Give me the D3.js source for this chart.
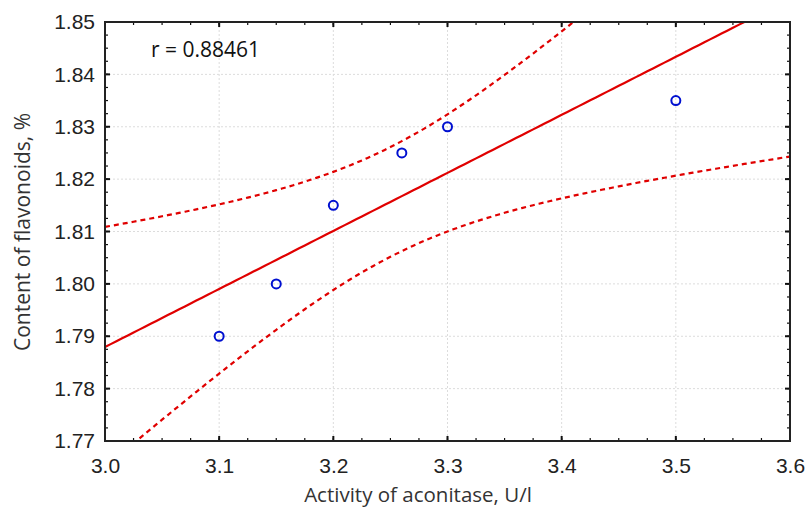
<!DOCTYPE html>
<html>
<head>
<meta charset="utf-8">
<script src="https://cdn.jsdelivr.net/npm/d3@7"></script>
<style>
  body { margin: 0; background: #fff; }
  svg { display: block; font-family: "Open Sans", sans-serif; }
  .grid line { stroke: #dcdcdc; stroke-dasharray: 2 2; }
  .tick text { fill: #222; }
</style>
</head>
<body>
<svg id="chart" width="806" height="509"></svg>
<script>
// data
const activity   = [3.10, 3.15, 3.20, 3.26, 3.30, 3.50];   // U/l
const flavonoids = [1.790, 1.800, 1.815, 1.825, 1.830, 1.835]; // %
const xTicks = [3.0, 3.1, 3.2, 3.3, 3.4, 3.5, 3.6];
const yTicks = [1.77, 1.78, 1.79, 1.80, 1.81, 1.82, 1.83, 1.84, 1.85];

const svg = d3.select('#chart');
const m = { left: 105, right: 16, top: 22, bottom: 68 };
const W = 806, H = 509;

const x = d3.scaleLinear().domain([3.0, 3.6]).range([m.left, W - m.right]);
const y = d3.scaleLinear().domain([1.77, 1.85]).range([H - m.bottom, m.top]);

// regression + 95% confidence band
const n = activity.length;
const mx = d3.mean(activity), my = d3.mean(flavonoids);
let sxx = 0, sxy = 0, syy = 0;
activity.forEach((v, i) => {
  sxx += (v - mx) ** 2;
  sxy += (v - mx) * (flavonoids[i] - my);
  syy += (flavonoids[i] - my) ** 2;
});
const b = sxy / sxx, a = my - b * mx;
const s = Math.sqrt((syy - sxy * sxy / sxx) / (n - 2));
const t = 2.776; // t(0.975, 4)
const xs = d3.range(3.0, 3.6001, 0.005);
const band = k => xs.map(v => [v, a + b * v + k * t * s * Math.sqrt(1 / n + (v - mx) ** 2 / sxx)]);

svg.append('defs').append('clipPath').attr('id', 'clip')
  .append('rect')
  .attr('x', m.left).attr('y', m.top)
  .attr('width', W - m.left - m.right).attr('height', H - m.top - m.bottom);

// grid
const grid = svg.append('g').attr('class', 'grid');
grid.selectAll('.vx').data(xTicks.slice(1, -1)).enter().append('line')
  .attr('x1', d => x(d)).attr('x2', d => x(d))
  .attr('y1', m.top).attr('y2', H - m.bottom);
grid.selectAll('.hy').data(yTicks.slice(1, -1)).enter().append('line')
  .attr('y1', d => y(d)).attr('y2', d => y(d))
  .attr('x1', m.left).attr('x2', W - m.right);

// lines
const line = d3.line().x(d => x(d[0])).y(d => y(d[1]));
const plot = svg.append('g').attr('clip-path', 'url(#clip)');
plot.append('path').datum(band(0))
  .attr('d', line).attr('fill', 'none').attr('stroke', '#e00000').attr('stroke-width', 2.2);
[-1, 1].forEach(k => {
  plot.append('path').datum(band(k))
    .attr('d', line).attr('fill', 'none').attr('stroke', '#e00000')
    .attr('stroke-width', 2.2).attr('stroke-dasharray', '5 4');
});

// points
svg.append('g').selectAll('circle').data(activity).enter().append('circle')
  .attr('cx', d => x(d)).attr('cy', (d, i) => y(flavonoids[i]))
  .attr('r', 4.5).attr('fill', 'none').attr('stroke', '#0010d0').attr('stroke-width', 2);

// axes with inward ticks
const xMinor = d3.range(3.0, 3.6001, 0.025);
const yMinor = d3.range(1.77, 1.8501, 0.0025);
const tickG = svg.append('g').attr('stroke', '#111');
function ticks(vals, len, wdt, horiz) {
  vals.forEach(v => {
    if (horiz) {
      tickG.append('line').attr('x1', x(v)).attr('x2', x(v))
        .attr('y1', H - m.bottom).attr('y2', H - m.bottom - len).attr('stroke-width', wdt);
      tickG.append('line').attr('x1', x(v)).attr('x2', x(v))
        .attr('y1', m.top).attr('y2', m.top + len).attr('stroke-width', wdt);
    } else {
      tickG.append('line').attr('y1', y(v)).attr('y2', y(v))
        .attr('x1', m.left).attr('x2', m.left + len).attr('stroke-width', wdt);
      tickG.append('line').attr('y1', y(v)).attr('y2', y(v))
        .attr('x1', W - m.right).attr('x2', W - m.right - len).attr('stroke-width', wdt);
    }
  });
}
ticks(xMinor, 3, 1.2, true);
ticks(yMinor, 3, 1.2, false);
ticks(xTicks, 5, 2, true);
ticks(yTicks, 5, 2, false);

svg.append('g').attr('transform', `translate(0,${H - m.bottom})`)
  .call(d3.axisBottom(x).tickValues(xTicks).tickFormat(d3.format('.1f')).tickSize(0).tickPadding(17))
  .call(g => g.select('.domain').remove())
  .selectAll('text').attr('font-size', 21);
svg.append('g').attr('transform', `translate(${m.left},0)`)
  .call(d3.axisLeft(y).tickValues(yTicks).tickFormat(d3.format('.2f')).tickSize(0).tickPadding(10))
  .call(g => g.select('.domain').remove())
  .selectAll('text').attr('font-size', 21);

// frame
svg.append('rect')
  .attr('x', m.left).attr('y', m.top)
  .attr('width', W - m.left - m.right).attr('height', H - m.top - m.bottom)
  .attr('fill', 'none').attr('stroke', '#222').attr('stroke-width', 2);

// labels
svg.append('text').attr('x', 151).attr('y', 57).attr('font-size', 21).attr('fill', '#111')
  .text('r = ' + (sxy / Math.sqrt(sxx * syy)).toFixed(5));
svg.append('text').attr('x', 418).attr('y', 502).attr('text-anchor', 'middle')
  .attr('font-size', 20.5).attr('fill', '#333').text('Activity of aconitase, U/l');
svg.append('text').attr('transform', 'translate(30,232) rotate(-90)')
  .attr('text-anchor', 'middle').attr('font-size', 21).attr('fill', '#333')
  .text('Content of flavonoids, %');
</script>
</body>
</html>
